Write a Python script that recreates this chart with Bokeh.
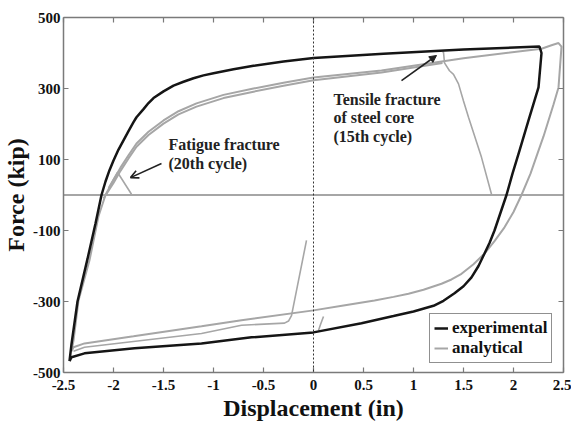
from bokeh.plotting import figure
from bokeh.models import (LinearAxis, FixedTicker, Range1d, Span, Label, Arrow,
                          NormalHead, OpenHead, Legend, LegendItem)
from bokeh.embed import file_html
from bokeh.resources import INLINE

# ---------------- data ----------------
# experimental hysteresis loop (displacement in, force kip)
exp_disp = [-2.44, -2.42, -2.36, -2.26, -2.18, -2.12, -2.08, -2.04, -2.00, -1.95, -1.90, -1.85,
            -1.80, -1.77, -1.70, -1.65, -1.60, -1.50, -1.40, -1.30, -1.20, -1.10, -1.00, -0.80,
            -0.60, -0.30, 0.00, 0.70, 1.50, 2.26, 2.28, 2.25, 2.15, 2.06, 1.99, 1.93, 1.87,
            1.81, 1.76, 1.71, 1.65, 1.58, 1.50, 1.41, 1.30, 1.20, 1.00, 0.80, 0.48, 0.00,
            -0.62, -1.12, -1.79, -2.29, -2.42, -2.44]
exp_force = [-468, -420, -300, -180, -80, 0, 38, 70, 97, 128, 154, 180,
             205, 219, 242, 259, 273, 292, 308, 319, 329, 337, 343, 354,
             364, 376, 386, 398, 410, 418, 400, 303, 210, 125, 60, 0, -50,
             -100, -135, -165, -200, -232, -257, -277, -298, -312, -328, -341, -361, -387,
             -401, -418, -432, -446, -457, -468]

# analytical outer loop
ana_disp = [-2.42, -2.40, -2.35, -2.24, -2.15, -2.08, -2.00, -1.93, -1.85, -1.77, -1.65, -1.50,
            -1.35, -1.17, -0.90, -0.60, -0.30, 0.00, 0.68, 1.50, 2.28, 2.38, 2.45, 2.48,
            2.45, 2.40, 2.35, 2.30, 2.25, 2.17, 2.08, 2.00, 1.91, 1.81, 1.71, 1.60, 1.48,
            1.38, 1.28, 1.10, 0.95, 0.80, 0.61, 0.30, 0.00, -0.72, -1.12, -1.80, -2.29,
            -2.40, -2.42]
ana_force = [-440, -410, -297, -184, -60, 0, 42, 77, 112, 145, 178, 210,
             236, 258, 282, 300, 316, 331, 351, 385, 412, 422, 428, 418,
             303, 255, 210, 165, 125, 60, 0, -48, -91, -130, -165, -195, -222,
             -238, -250, -267, -278, -287, -297, -311, -325, -353, -370, -398, -418,
             -429, -440]

# analytical second upper branch (cycle leading to tensile fracture)
ana_up2_disp = [-2.10, -2.00, -1.93, -1.85, -1.77, -1.65, -1.50, -1.35, -1.17, -0.90, -0.60,
                -0.30, 0.00, 0.68, 1.29]
ana_up2_force = [-10, 34, 68, 103, 136, 169, 201, 227, 249, 273, 291, 308, 323, 345, 372]

# analytical inner lower branch (cycle before fatigue fracture)
ana_low2_disp = [-2.40, -2.29, -1.12, -0.72, -0.29, -0.25, -0.22, -0.07]
ana_low2_force = [-440, -429, -390, -367, -361, -355, -340, -128]

# small reloading segment near zero displacement
ana_seg_disp = [0.05, 0.07, 0.10]
ana_seg_force = [-382, -365, -342]

# tensile fracture of steel core (15th cycle)
ana_ten_disp = [1.29, 1.30, 1.31, 1.36, 1.40, 1.45, 1.50, 1.55, 1.68, 1.78]
ana_ten_force = [403, 402, 372, 350, 340, 313, 265, 219, 106, 2]

# fatigue fracture (20th cycle)
ana_fat_disp = [-2.05, -1.96, -1.82]
ana_fat_force = [20, 64, 2]

# residual (fractured) response
ana_res_disp = [-2.5, 2.5]
ana_res_force = [0, 0]

x_ticks = [-2.5, -2.0, -1.5, -1.0, -0.5, 0.0, 0.5, 1.0, 1.5, 2.0, 2.5]
x_tick_labels = ["-2.5", "-2", "-1.5", "-1", "-0.5", "0", "0.5", "1", "1.5", "2", "2.5"]
y_ticks = [-500, -300, -100, 100, 300, 500]
y_tick_labels = ["-500", "-300", "-100", "100", "300", "500"]

# ---------------- styles ----------------
FONT = "Liberation Serif"
BLACK = "#151515"
GRAY = "#a6a6a6"
AXC = "#7a7a7a"

p = figure(width=571, height=425, x_range=Range1d(-2.5, 2.5), y_range=Range1d(-500, 500),
           output_backend="svg", toolbar_location=None,
           min_border_left=62, min_border_right=8, min_border_top=17, min_border_bottom=53)
p.outline_line_color = None
p.xgrid.visible = False
p.ygrid.visible = False
p.background_fill_color = "white"
p.border_fill_color = "white"

bottom_axis = p.xaxis[0]
left_axis = p.yaxis[0]


def style_axis(ax, ticks, labels, standoff, show_labels=True):
    ax.ticker = FixedTicker(ticks=ticks)
    ax.axis_line_color = AXC
    ax.axis_line_width = 1.5
    ax.major_tick_line_color = AXC
    ax.major_tick_line_width = 1.2
    ax.major_tick_in = 5
    ax.major_tick_out = 0
    ax.minor_tick_line_color = None
    ax.major_label_standoff = standoff
    if show_labels:
        ax.major_label_overrides = dict(zip(ticks, labels))
        ax.major_label_text_font = FONT
        ax.major_label_text_font_style = "bold"
        ax.major_label_text_font_size = "15px"
        ax.major_label_text_color = "#111111"
    else:
        ax.major_label_overrides = {t: "" for t in ticks}
        ax.major_label_text_font_size = "1px"
        ax.major_label_text_alpha = 0


style_axis(bottom_axis, x_ticks, x_tick_labels, 7)
style_axis(left_axis, y_ticks, y_tick_labels, 3)
top_axis = LinearAxis()
style_axis(top_axis, x_ticks, x_tick_labels, 0, show_labels=False)
p.add_layout(top_axis, "above")
right_axis = LinearAxis()
style_axis(right_axis, y_ticks, y_tick_labels, 0, show_labels=False)
p.add_layout(right_axis, "right")

# axis titles
bottom_axis.axis_label = "Displacement (in)"
left_axis.axis_label = "Force (kip)"
for ax in (bottom_axis, left_axis):
    ax.axis_label_text_font = FONT
    ax.axis_label_text_font_style = "bold"
    ax.axis_label_text_font_size = "24px"
    ax.axis_label_text_color = "#111111"
bottom_axis.axis_label_standoff = 2
left_axis.axis_label_standoff = 1

# dotted zero-displacement line
p.add_layout(Span(location=0, dimension="height", line_color="#333333",
                  line_dash="2 2", line_width=1))

# analytical (gray) curves
p.line(ana_res_disp, ana_res_force, line_color=GRAY, line_width=2)
r_ana = p.line(ana_disp, ana_force, line_color=GRAY, line_width=2)
p.line(ana_up2_disp, ana_up2_force, line_color=GRAY, line_width=2)
p.line(ana_low2_disp, ana_low2_force, line_color=GRAY, line_width=1.6)
p.line(ana_seg_disp, ana_seg_force, line_color=GRAY, line_width=1.6)
p.line(ana_ten_disp, ana_ten_force, line_color=GRAY, line_width=1.6)
p.line(ana_fat_disp, ana_fat_force, line_color=GRAY, line_width=1.6)

# experimental (black) curve
r_exp = p.line(exp_disp, exp_force, line_color=BLACK, line_width=2.5)

# annotations
ann_style = dict(text_font=FONT, text_font_style="bold", text_font_size="16px",
                 text_color="#222222", text_baseline="alphabetic", text_align="left")
for txt, yy in [("Tensile fracture", 270), ("of steel core", 217), ("(15th cycle)", 164)]:
    p.add_layout(Label(x=0.20, y=yy, text=txt, **ann_style))
for txt, yy in [("Fatigue fracture", 143), ("(20th cycle)", 88)]:
    p.add_layout(Label(x=-1.45, y=yy, text=txt, **ann_style))

p.add_layout(Arrow(x_start=0.88, y_start=322, x_end=1.23, y_end=393, line_color="#222222",
                   line_width=1.6, end=NormalHead(size=7, fill_color="#222222",
                                                  line_color="#222222")))
p.add_layout(Arrow(x_start=-1.52, y_start=89, x_end=-1.83, y_end=49, line_color="#222222",
                   line_width=1.6, end=OpenHead(size=8, line_color="#222222",
                                                line_width=1.6)))

# legend
legend = Legend(items=[LegendItem(label="experimental", renderers=[r_exp]),
                       LegendItem(label="analytical", renderers=[r_ana])],
                location=(366, 9), border_line_color="#222222", border_line_width=1.5,
                label_text_font=FONT, label_text_font_style="bold",
                label_text_font_size="17px", label_text_color="#111111",
                glyph_width=14, glyph_height=20, label_height=20, label_standoff=4,
                padding=4, spacing=0, margin=0, background_fill_color="white",
                background_fill_alpha=1)
p.add_layout(legend, "center")

open("out.html", "w").write(file_html(p, INLINE))
